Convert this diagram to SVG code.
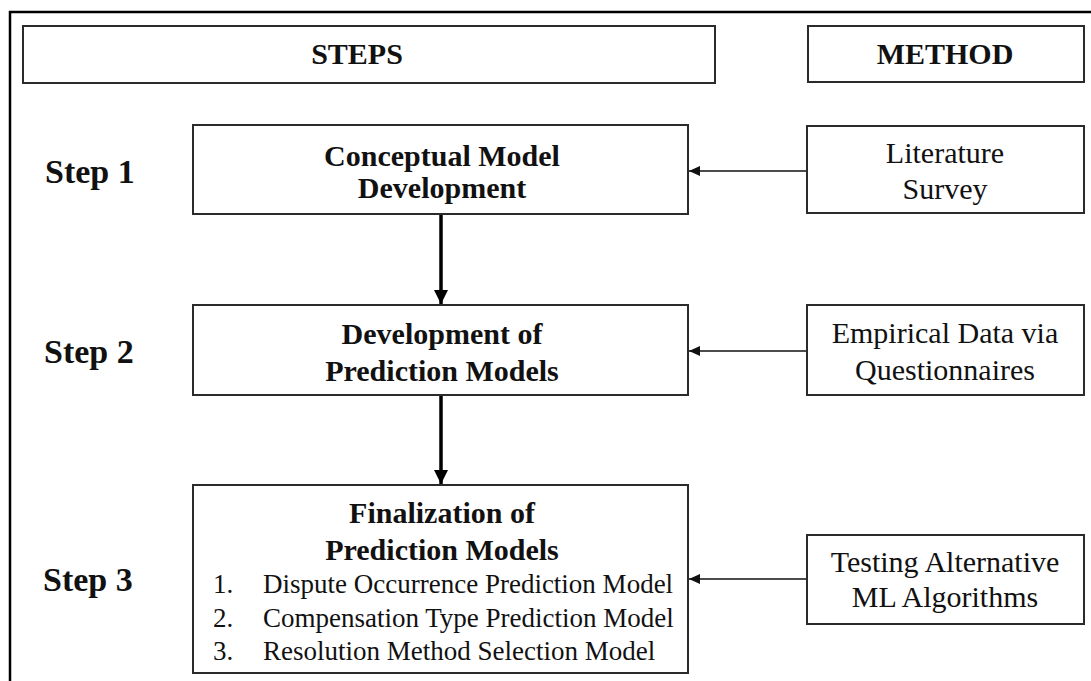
<svg xmlns="http://www.w3.org/2000/svg" width="1091" height="681" viewBox="0 0 1091 681">
  <style>
    .box { fill: #ffffff; stroke: #2b2b2b; stroke-width: 2; }
    .hdr { font-family: "Liberation Serif", "Times New Roman", serif; font-weight: bold; font-size: 30px; fill: #111; text-anchor: middle; }
    .step { font-family: "Liberation Serif", "Times New Roman", serif; font-weight: bold; font-size: 34px; fill: #111; }
    .title { font-family: "Liberation Serif", "Times New Roman", serif; font-weight: bold; font-size: 30px; fill: #111; text-anchor: middle; }
    .meth { font-family: "Liberation Serif", "Times New Roman", serif; font-size: 30px; fill: #111; text-anchor: middle; }
    .item { font-family: "Liberation Serif", "Times New Roman", serif; font-size: 27px; fill: #111; }
    .flow { stroke: #000; stroke-width: 3.5; fill: none; marker-end: url(#bigHead); }
    .feed { stroke: #111; stroke-width: 1.5; fill: none; marker-end: url(#smallHead); }
  </style>
  <defs>
    <marker id="bigHead" markerUnits="userSpaceOnUse" markerWidth="14" markerHeight="14" refX="14" refY="7" orient="auto">
      <path d="M0,0 L14,7 L0,14 Z" fill="#000"/>
    </marker>
    <marker id="smallHead" markerUnits="userSpaceOnUse" markerWidth="11" markerHeight="10" refX="11" refY="5" orient="auto">
      <path d="M0,0 L11,5 L0,10 Z" fill="#111"/>
    </marker>
  </defs>

  <rect width="1091" height="681" fill="#ffffff"/>
  <!-- outer frame -->
  <rect x="10" y="12" width="1100" height="700" fill="none" stroke="#000" stroke-width="2.5"/>

  <!-- column headers -->
  <g id="header-steps">
    <rect class="box" x="23" y="26" width="692" height="57"/>
    <text class="hdr" x="357" y="64">STEPS</text>
  </g>
  <g id="header-method">
    <rect class="box" x="808" y="26" width="276" height="56"/>
    <text class="hdr" x="945" y="64">METHOD</text>
  </g>

  <!-- step labels -->
  <g id="label-step1"><text class="step" x="45" y="183">Step 1</text></g>
  <g id="label-step2"><text class="step" x="44" y="363">Step 2</text></g>
  <g id="label-step3"><text class="step" x="43" y="591">Step 3</text></g>

  <!-- step boxes -->
  <g id="step1">
    <rect class="box" x="193" y="125" width="495" height="89"/>
    <text class="title" x="442" y="166">Conceptual Model</text>
    <text class="title" x="442" y="198">Development</text>
  </g>
  <g id="step2">
    <rect class="box" x="193" y="305" width="495" height="90"/>
    <text class="title" x="442" y="344">Development of</text>
    <text class="title" x="442" y="381">Prediction Models</text>
  </g>
  <g id="step3">
    <rect class="box" x="193" y="485" width="495" height="188"/>
    <text class="title" x="442" y="523">Finalization of</text>
    <text class="title" x="442" y="560">Prediction Models</text>
    <text class="item" x="213" y="593">1.</text>
    <text class="item" x="263" y="593">Dispute Occurrence Prediction Model</text>
    <text class="item" x="213" y="627">2.</text>
    <text class="item" x="263" y="627">Compensation Type Prediction Model</text>
    <text class="item" x="213" y="660">3.</text>
    <text class="item" x="263" y="660">Resolution Method Selection Model</text>
  </g>

  <!-- method boxes -->
  <g id="method1">
    <rect class="box" x="807" y="126" width="277" height="87"/>
    <text class="meth" x="945" y="163">Literature</text>
    <text class="meth" x="945" y="199">Survey</text>
  </g>
  <g id="method2">
    <rect class="box" x="807" y="305" width="277" height="90"/>
    <text class="meth" x="945" y="343">Empirical Data via</text>
    <text class="meth" x="945" y="380">Questionnaires</text>
  </g>
  <g id="method3">
    <rect class="box" x="807" y="535" width="277" height="89"/>
    <text class="meth" x="945" y="572">Testing Alternative</text>
    <text class="meth" x="945" y="607">ML Algorithms</text>
  </g>

  <!-- connectors -->
  <g id="connectors">
    <line class="flow" x1="441" y1="215" x2="441" y2="304"/>
    <line class="flow" x1="441" y1="396" x2="441" y2="484"/>
    <line class="feed" x1="806" y1="171" x2="689" y2="171"/>
    <line class="feed" x1="806" y1="351" x2="689" y2="351"/>
    <line class="feed" x1="806" y1="579" x2="689" y2="579"/>
  </g>
</svg>
